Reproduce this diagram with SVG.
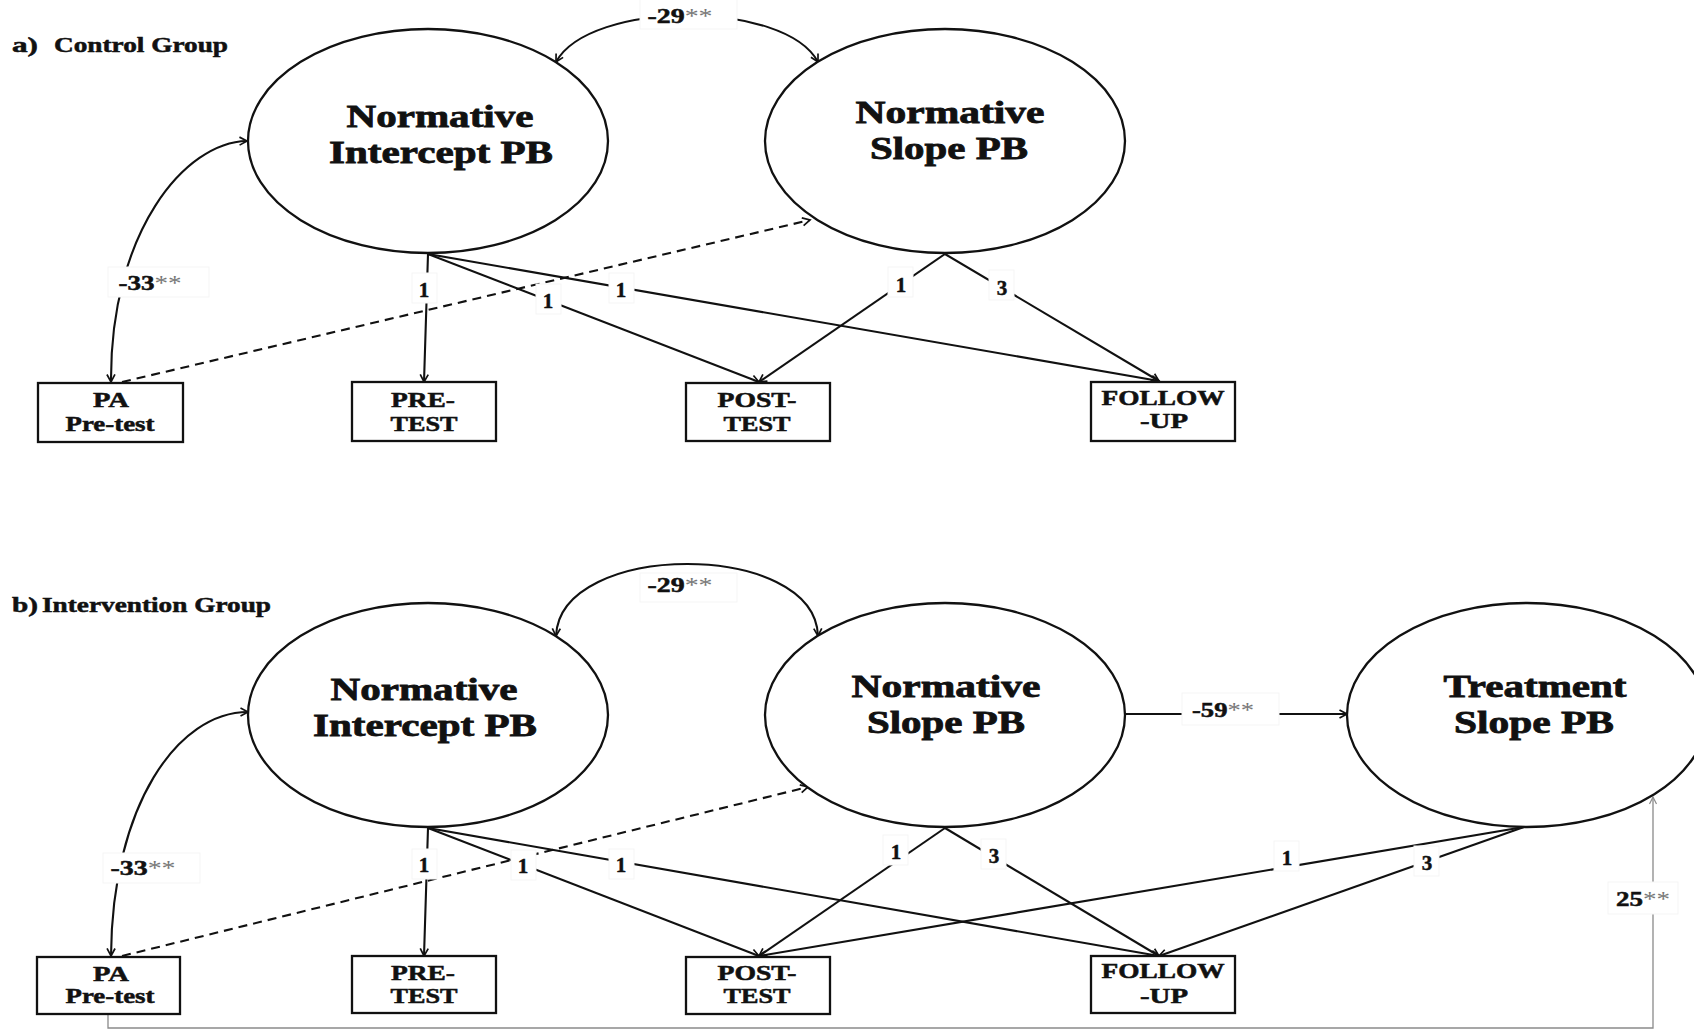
<svg xmlns="http://www.w3.org/2000/svg" width="1694" height="1030" viewBox="0 0 1694 1030">
<style>
.lat{fill:#fff;stroke:#111;stroke-width:2.3}
.box{fill:#fff;stroke:#111;stroke-width:2.3}
.ln{fill:none;stroke:#111;stroke-width:2.1}
.dash{fill:none;stroke:#111;stroke-width:2.1;stroke-dasharray:9 6}
.gray{fill:none;stroke:#8a8a8a;stroke-width:1.3}
.lb{fill:#fff;stroke:#f5f5f5;stroke-width:1}
.t{font-family:"Liberation Serif","Times New Roman",serif;font-weight:bold;fill:#111;stroke:#111;stroke-width:0.5}
.big{font-size:31px;stroke-width:0.8}
.bx{font-size:20px}
.num{font-size:21px}
.ttl{font-size:21px}
.ast{font-weight:normal;fill:#777;stroke:none}
</style>
<defs>
<marker id="ah" markerWidth="12" markerHeight="12" refX="9" refY="5" orient="auto-start-reverse" markerUnits="userSpaceOnUse"><path d="M1.5,1 L9,5 L1.5,9" fill="none" stroke="#111" stroke-width="1.7"/></marker>
<marker id="ahg" markerWidth="12" markerHeight="12" refX="9" refY="5" orient="auto" markerUnits="userSpaceOnUse"><path d="M2,1.5 L9,5 L2,8.5" fill="none" stroke="#8a8a8a" stroke-width="1.2"/></marker>
</defs>
<rect width="1694" height="1030" fill="#fff"/>

<g id="connectors">
<!-- Part a -->
<path class="ln" d="M556,62 C590,0 785,0 818,62" marker-start="url(#ah)" marker-end="url(#ah)"/>
<path class="ln" d="M111,382 C110,232 185,142 247,141" marker-start="url(#ah)" marker-end="url(#ah)"/>
<path class="dash" d="M122,382 L810,220" marker-end="url(#ah)"/>
<path class="ln" d="M428,254 L424,382" marker-end="url(#ah)"/>
<path class="ln" d="M428,254 L759,382" marker-end="url(#ah)"/>
<path class="ln" d="M428,254 L1159,381" marker-end="url(#ah)"/>
<path class="ln" d="M945,254 L759,382" marker-end="url(#ah)"/>
<path class="ln" d="M945,254 L1159,381" marker-end="url(#ah)"/>
<!-- Part b -->
<path class="ln" d="M556,636 C560,540 815,540 818,636" marker-start="url(#ah)" marker-end="url(#ah)"/>
<path class="ln" d="M111,956 C112,805 178,712 248,712" marker-start="url(#ah)" marker-end="url(#ah)"/>
<path class="dash" d="M122,956 L808,787" marker-end="url(#ah)"/>
<path class="ln" d="M1125,714 L1347,714" marker-end="url(#ah)"/>
<path class="ln" d="M428,828 L424,956" marker-end="url(#ah)"/>
<path class="ln" d="M428,828 L759,956" marker-end="url(#ah)"/>
<path class="ln" d="M428,828 L1159,956" marker-end="url(#ah)"/>
<path class="ln" d="M945,828 L759,956" marker-end="url(#ah)"/>
<path class="ln" d="M945,828 L1159,956" marker-end="url(#ah)"/>
<path class="ln" d="M1524,827 L759,956" marker-end="url(#ah)"/>
<path class="ln" d="M1524,827 L1159,956" marker-end="url(#ah)"/>
<path class="gray" d="M108,1014 V1028 H1653 V797" marker-end="url(#ahg)"/>

<!-- labels a -->
<rect class="lb" x="640" y="-2" width="97" height="31"/>
<text class="t" x="680" y="23" text-anchor="middle" font-size="20" textLength="65" lengthAdjust="spacingAndGlyphs">-29<tspan class="ast">**</tspan></text>
<rect class="lb" x="108" y="267" width="101" height="30"/>
<text class="t" x="150" y="290" text-anchor="middle" font-size="20" textLength="63" lengthAdjust="spacingAndGlyphs">-33<tspan class="ast">**</tspan></text>
<rect class="lb" x="412" y="273" width="25" height="30"/>
<text class="t num" x="424" y="297" text-anchor="middle">1</text>
<rect class="lb" x="536" y="284" width="25" height="30"/>
<text class="t num" x="548" y="308" text-anchor="middle">1</text>
<rect class="lb" x="609" y="273" width="25" height="30"/>
<text class="t num" x="621" y="297" text-anchor="middle">1</text>
<rect class="lb" x="888" y="267" width="25" height="30"/>
<text class="t num" x="901" y="292" text-anchor="middle">1</text>
<rect class="lb" x="989" y="270" width="25" height="30"/>
<text class="t num" x="1002" y="295" text-anchor="middle">3</text>

<!-- labels b -->
<rect class="lb" x="640" y="573" width="97" height="29"/>
<text class="t" x="680" y="592" text-anchor="middle" font-size="20" textLength="65" lengthAdjust="spacingAndGlyphs">-29<tspan class="ast">**</tspan></text>
<rect class="lb" x="103" y="853" width="97" height="30"/>
<text class="t" x="143" y="875" text-anchor="middle" font-size="20" textLength="65" lengthAdjust="spacingAndGlyphs">-33<tspan class="ast">**</tspan></text>
<rect class="lb" x="1182" y="693" width="97" height="32"/>
<text class="t" x="1223" y="717" text-anchor="middle" font-size="20" textLength="62" lengthAdjust="spacingAndGlyphs">-59<tspan class="ast">**</tspan></text>
<rect class="lb" x="1608" y="882" width="70" height="32"/>
<text class="t" x="1643" y="906" text-anchor="middle" font-size="20" textLength="54" lengthAdjust="spacingAndGlyphs">25<tspan class="ast">**</tspan></text>
<rect class="lb" x="412" y="849" width="25" height="30"/>
<text class="t num" x="424" y="872" text-anchor="middle">1</text>
<rect class="lb" x="511" y="850" width="25" height="30"/>
<text class="t num" x="523" y="873" text-anchor="middle">1</text>
<rect class="lb" x="609" y="849" width="25" height="30"/>
<text class="t num" x="621" y="872" text-anchor="middle">1</text>
<rect class="lb" x="883" y="835" width="25" height="30"/>
<text class="t num" x="896" y="859" text-anchor="middle">1</text>
<rect class="lb" x="981" y="839" width="25" height="30"/>
<text class="t num" x="994" y="863" text-anchor="middle">3</text>
<rect class="lb" x="1274" y="841" width="25" height="30"/>
<text class="t num" x="1287" y="865" text-anchor="middle">1</text>
<rect class="lb" x="1414" y="846" width="25" height="30"/>
<text class="t num" x="1427" y="870" text-anchor="middle">3</text>
</g>

<g id="title-a"><text class="t ttl" x="12" y="52" textLength="26" lengthAdjust="spacingAndGlyphs">a)</text><text class="t ttl" x="54" y="52" textLength="174" lengthAdjust="spacingAndGlyphs">Control Group</text></g>
<g id="title-b"><text class="t ttl" x="12" y="612" textLength="26" lengthAdjust="spacingAndGlyphs">b)</text><text class="t ttl" x="42" y="612" textLength="229" lengthAdjust="spacingAndGlyphs">Intervention Group</text></g>

<g id="a-intercept"><ellipse class="lat" cx="428" cy="141" rx="180" ry="112"/>
<text class="t big" x="440" y="127" text-anchor="middle" textLength="187" lengthAdjust="spacingAndGlyphs">Normative</text>
<text class="t big" x="441" y="163" text-anchor="middle" textLength="224" lengthAdjust="spacingAndGlyphs">Intercept PB</text></g>
<g id="a-slope"><ellipse class="lat" cx="945" cy="141" rx="180" ry="112"/>
<text class="t big" x="950" y="123" text-anchor="middle" textLength="189" lengthAdjust="spacingAndGlyphs">Normative</text>
<text class="t big" x="949" y="159" text-anchor="middle" textLength="158" lengthAdjust="spacingAndGlyphs">Slope PB</text></g>

<g id="a-pa"><rect class="box" x="38" y="383" width="145" height="59"/>
<text class="t bx" x="111" y="407" text-anchor="middle" textLength="36" lengthAdjust="spacingAndGlyphs">PA</text>
<text class="t bx" x="110" y="431" text-anchor="middle" textLength="89" lengthAdjust="spacingAndGlyphs">Pre-test</text></g>
<g id="a-pre"><rect class="box" x="352" y="382" width="144" height="59"/>
<text class="t bx" x="423" y="407" text-anchor="middle" textLength="64" lengthAdjust="spacingAndGlyphs">PRE-</text>
<text class="t bx" x="424" y="431" text-anchor="middle" textLength="67" lengthAdjust="spacingAndGlyphs">TEST</text></g>
<g id="a-post"><rect class="box" x="686" y="383" width="144" height="58"/>
<text class="t bx" x="757" y="407" text-anchor="middle" textLength="79" lengthAdjust="spacingAndGlyphs">POST-</text>
<text class="t bx" x="757" y="431" text-anchor="middle" textLength="67" lengthAdjust="spacingAndGlyphs">TEST</text></g>
<g id="a-follow"><rect class="box" x="1091" y="382" width="144" height="59"/>
<text class="t bx" x="1163" y="405" text-anchor="middle" textLength="123" lengthAdjust="spacingAndGlyphs">FOLLOW</text>
<text class="t bx" x="1164" y="428" text-anchor="middle" textLength="48" lengthAdjust="spacingAndGlyphs">-UP</text></g>

<g id="b-intercept"><ellipse class="lat" cx="428" cy="715" rx="180" ry="112"/>
<text class="t big" x="424" y="700" text-anchor="middle" textLength="187" lengthAdjust="spacingAndGlyphs">Normative</text>
<text class="t big" x="425" y="736" text-anchor="middle" textLength="224" lengthAdjust="spacingAndGlyphs">Intercept PB</text></g>
<g id="b-slope"><ellipse class="lat" cx="945" cy="715" rx="180" ry="112"/>
<text class="t big" x="946" y="697" text-anchor="middle" textLength="189" lengthAdjust="spacingAndGlyphs">Normative</text>
<text class="t big" x="946" y="733" text-anchor="middle" textLength="158" lengthAdjust="spacingAndGlyphs">Slope PB</text></g>
<g id="b-treatment"><ellipse class="lat" cx="1527" cy="715" rx="180" ry="112"/>
<text class="t big" x="1535" y="697" text-anchor="middle" textLength="183" lengthAdjust="spacingAndGlyphs">Treatment</text>
<text class="t big" x="1534" y="733" text-anchor="middle" textLength="160" lengthAdjust="spacingAndGlyphs">Slope PB</text></g>

<g id="b-pa"><rect class="box" x="37" y="957" width="143" height="57"/>
<text class="t bx" x="111" y="981" text-anchor="middle" textLength="36" lengthAdjust="spacingAndGlyphs">PA</text>
<text class="t bx" x="110" y="1003" text-anchor="middle" textLength="89" lengthAdjust="spacingAndGlyphs">Pre-test</text></g>
<g id="b-pre"><rect class="box" x="352" y="956" width="144" height="57"/>
<text class="t bx" x="423" y="980" text-anchor="middle" textLength="64" lengthAdjust="spacingAndGlyphs">PRE-</text>
<text class="t bx" x="424" y="1003" text-anchor="middle" textLength="67" lengthAdjust="spacingAndGlyphs">TEST</text></g>
<g id="b-post"><rect class="box" x="686" y="957" width="144" height="57"/>
<text class="t bx" x="757" y="980" text-anchor="middle" textLength="79" lengthAdjust="spacingAndGlyphs">POST-</text>
<text class="t bx" x="757" y="1003" text-anchor="middle" textLength="67" lengthAdjust="spacingAndGlyphs">TEST</text></g>
<g id="b-follow"><rect class="box" x="1091" y="956" width="144" height="57"/>
<text class="t bx" x="1163" y="978" text-anchor="middle" textLength="123" lengthAdjust="spacingAndGlyphs">FOLLOW</text>
<text class="t bx" x="1164" y="1003" text-anchor="middle" textLength="48" lengthAdjust="spacingAndGlyphs">-UP</text></g>
</svg>
